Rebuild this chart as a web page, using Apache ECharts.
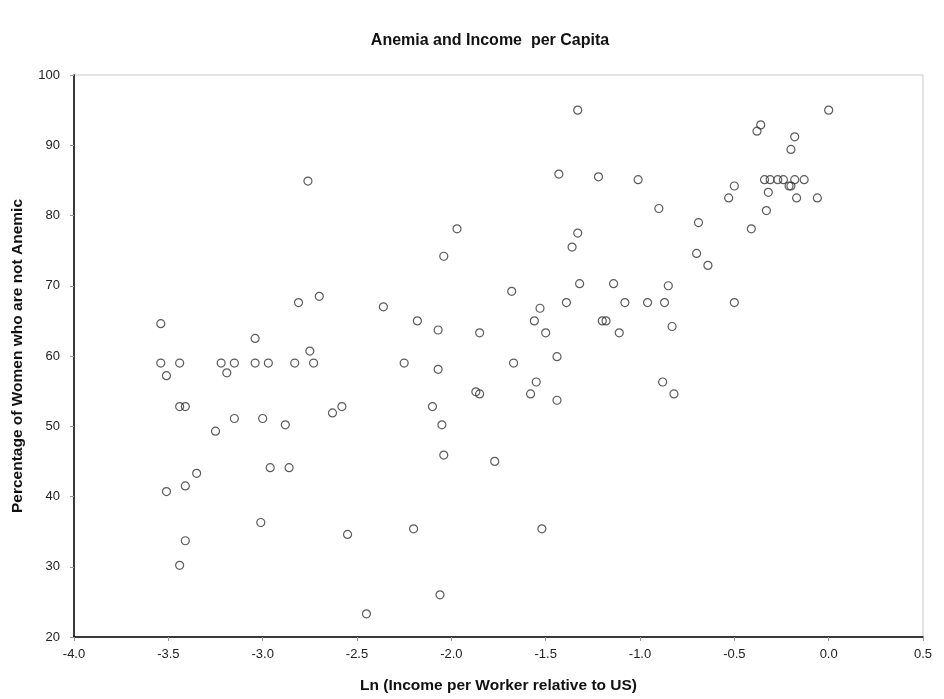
<!DOCTYPE html>
<html>
<head>
<meta charset="utf-8">
<title>Anemia and Income per Capita</title>
<script src="https://cdn.jsdelivr.net/npm/echarts@6/dist/echarts.min.js"></script>
<style>
  html, body { margin: 0; padding: 0; background: #fff; }
  #chart { width: 944px; height: 699px; }
</style>
</head>
<body>
<div id="chart"></div>
<script>
// Ln(income per worker relative to US)
var incomeLn = [
  -2.76, -2.81, -2.70, -3.54, -3.04, -2.75,
  -3.54, -3.44, -3.22, -3.15, -3.04, -2.97, -2.83, -2.73,
  -3.51, -3.19, -3.44, -3.41, -3.15, -3.00, -3.25, -2.88, -2.63, -2.58,
  -2.96, -2.86, -3.35, -3.41, -3.51, -3.01, -2.55, -3.41, -3.44,
  -2.25, -2.07, -1.67, -1.44, -1.55, -1.87, -1.85, -1.58, -1.44,
  -2.10, -2.05, -2.04, -1.77, -2.20, -1.52, -2.06, -2.45,
  -1.33, -1.43, -1.22, -1.01, -1.97, -2.04, -1.33, -1.36, -1.32, -1.14,
  -1.68, -2.36, -1.39, -1.08, -1.53, -2.18, -1.56, -1.20, -1.18,
  -2.07, -1.85, -1.50, -1.11,
  0.00, -0.36, -0.38, -0.18, -0.20,
  -0.34, -0.31, -0.27, -0.24, -0.18, -0.13,
  -0.21, -0.20, -0.50, -0.53, -0.32, -0.17, -0.06, -0.33,
  -0.90, -0.69, -0.41, -0.70, -0.64, -0.85, -0.96, -0.87, -0.50,
  -0.83, -0.88, -0.82
];
// percentage of women who are not anemic
var notAnemic = [
  84.9, 67.6, 68.5, 64.6, 62.5, 60.7,
  59.0, 59.0, 59.0, 59.0, 59.0, 59.0, 59.0, 59.0,
  57.2, 57.6, 52.8, 52.8, 51.1, 51.1, 49.3, 50.2, 51.9, 52.8,
  44.1, 44.1, 43.3, 41.5, 40.7, 36.3, 34.6, 33.7, 30.2,
  59.0, 58.1, 59.0, 59.9, 56.3, 54.9, 54.6, 54.6, 53.7,
  52.8, 50.2, 45.9, 45.0, 35.4, 35.4, 26.0, 23.3,
  95.0, 85.9, 85.5, 85.1, 78.1, 74.2, 77.5, 75.5, 70.3, 70.3,
  69.2, 67.0, 67.6, 67.6, 66.8, 65.0, 65.0, 65.0, 65.0,
  63.7, 63.3, 63.3, 63.3,
  95.0, 92.9, 92.0, 91.2, 89.4,
  85.1, 85.1, 85.1, 85.1, 85.1, 85.1,
  84.2, 84.2, 84.2, 82.5, 83.3, 82.5, 82.5, 80.7,
  81.0, 79.0, 78.1, 74.6, 72.9, 70.0, 67.6, 67.6, 67.6,
  64.2, 56.3, 54.6
];

var points = incomeLn.map(function (x, i) {
  return [x, notAnemic[i]];
});

var font = "Liberation Sans, Arial, sans-serif";

var myChart = echarts.init(document.getElementById("chart"));
myChart.setOption({
  backgroundColor: "#ffffff",
  animation: false,
  title: {
    text: "Anemia and Income  per Capita",
    left: 490,
    textAlign: "center",
    top: 33,
    padding: 0,
    textStyle: {
      fontFamily: font,
      fontSize: 16,
      fontWeight: "bold",
      color: "#111"
    }
  },
  grid: {
    left: 74,
    right: 21,
    top: 75,
    bottom: 61,
    show: true,
    borderColor: "#c8c8c8",
    borderWidth: 1
  },
  xAxis: {
    type: "value",
    min: -4,
    max: 0.5,
    interval: 0.5,
    name: "Ln (Income per Worker relative to US)",
    nameLocation: "middle",
    nameGap: 41,
    nameTextStyle: {
      fontFamily: font,
      fontSize: 15.5,
      fontWeight: "bold",
      color: "#111"
    },
    axisLine: { show: true, onZero: false, lineStyle: { color: "#000", width: 1.5 } },
    axisTick: { show: true, length: 4, lineStyle: { color: "#999" } },
    splitLine: { show: false },
    axisLabel: {
      margin: 11,
      fontFamily: font,
      fontSize: 13,
      color: "#222",
      formatter: function (v) { return v.toFixed(1); }
    }
  },
  yAxis: {
    type: "value",
    min: 20,
    max: 100,
    interval: 10,
    name: "Percentage of Women who are not Anemic",
    nameLocation: "middle",
    nameGap: 48,
    nameTextStyle: {
      fontFamily: font,
      fontSize: 15.5,
      fontWeight: "bold",
      color: "#111"
    },
    axisLine: { show: true, onZero: false, lineStyle: { color: "#000", width: 1.5 } },
    axisTick: { show: true, length: 4, lineStyle: { color: "#999" } },
    splitLine: { show: false },
    axisLabel: {
      margin: 14,
      fontFamily: font,
      fontSize: 13,
      color: "#222"
    }
  },
  series: [
    {
      type: "scatter",
      data: points,
      symbol: "circle",
      symbolSize: 8,
      itemStyle: {
        color: "rgba(255,255,255,0)",
        borderColor: "#333",
        borderWidth: 1.2
      }
    }
  ]
});
</script>
</body>
</html>
